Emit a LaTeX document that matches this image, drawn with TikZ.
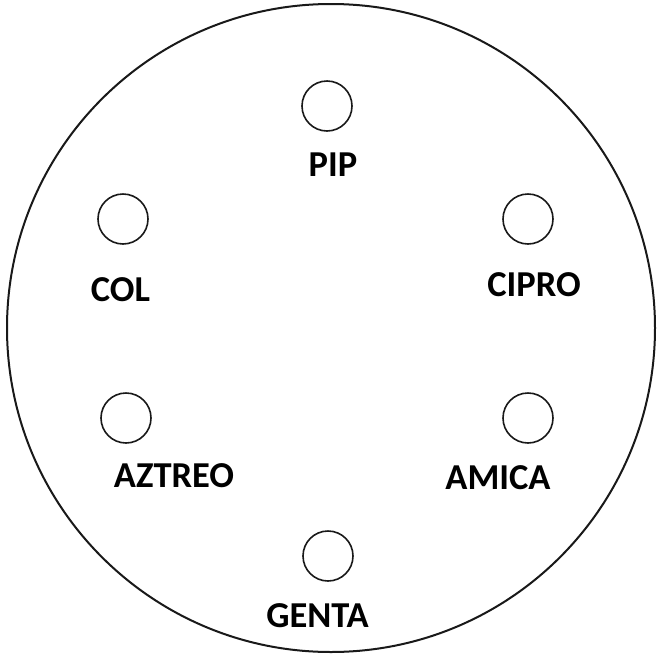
\documentclass[tikz,border=0pt]{standalone}
\usepackage{fontspec}
\setmainfont{Carlito}
\begin{document}
\begin{tikzpicture}[x=1pt,y=-1pt,
  well/.style={circle,draw=black!90,line width=1.6pt,minimum size=50pt,inner sep=0pt},
  lbl/.style={anchor=base,inner sep=0pt,font=\fontsize{36.5}{42}\selectfont\bfseries}]
\useasboundingbox (0,0) rectangle (662,654);
\node[circle,draw=black!90,line width=2pt,minimum size=648pt,inner sep=0pt] (plate) at (331,328) {};
\node[well] (wPIP) at (327,106) {};
\node[well] (wCIPRO) at (528,219) {};
\node[well] (wCOL) at (123,219) {};
\node[well] (wAZTREO) at (126,418) {};
\node[well] (wAMICA) at (528,418) {};
\node[well] (wGENTA) at (328,556) {};
\node[lbl] (tPIP) at (333,176.5) {PIP};
\node[lbl] (tCIPRO) at (534,296.5) {CIPRO};
\node[lbl] (tCOL) at (120.5,301) {COL};
\node[lbl] (tAZTREO) at (174,487) {AZTREO};
\node[lbl] (tAMICA) at (498,489.5) {AMICA};
\node[lbl] (tGENTA) at (317.5,627) {GENTA};
\end{tikzpicture}
\end{document}
